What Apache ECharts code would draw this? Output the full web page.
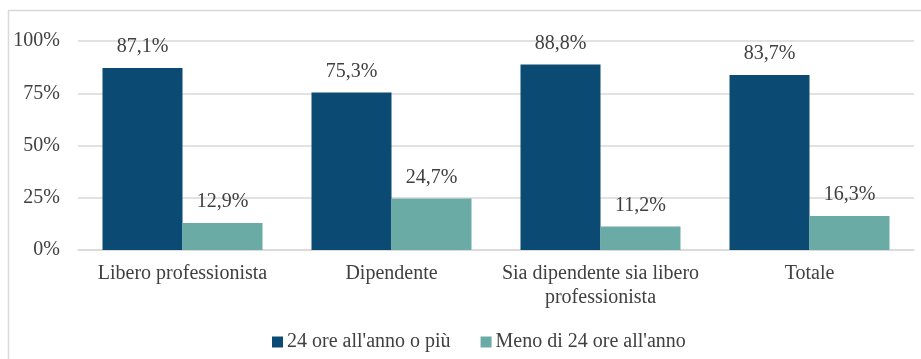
<!DOCTYPE html>
<html>
<head>
<meta charset="utf-8">
<script src="https://cdn.jsdelivr.net/npm/echarts@6/dist/echarts.min.js"></script>
<style>
  html, body { margin: 0; padding: 0; background: #fff; }
  #chart { width: 921px; height: 359px; }
</style>
</head>
<body>
<div id="chart"></div>
<script>
// Categories and series values (percent)
const categories = ['Libero professionista', 'Dipendente', 'Sia dipendente sia libero\nprofessionista', 'Totale'];
const seriesNames = ["24 ore all'anno o più", "Meno di 24 ore all'anno"];
const valuesMore = [87.1, 75.3, 88.8, 83.7];
const valuesLess = [12.9, 24.7, 11.2, 16.3];
const yTicks = [0, 25, 50, 75, 100];

const FONT = '"Liberation Serif", "DejaVu Serif", serif';
const SIZE = 20;
const TEXT = '#404040';
const GRID = '#d9d9d9';

const fmt = v => v.toFixed(1).replace('.', ',') + '%';

const chart = echarts.init(document.getElementById('chart'), null, { renderer: 'canvas' });
chart.setOption({
  backgroundColor: '#fff',
  animation: false,
  textStyle: { fontFamily: FONT },
  graphic: [{
    type: 'rect',
    shape: { x: 8.5, y: 10.5, width: 1000, height: 1000 },
    style: { fill: 'none', stroke: GRID, lineWidth: 1.5 },
    silent: true
  }],
  grid: { left: 78, right: 7, top: 41, bottom: 109, containLabel: false },
  legend: {
    bottom: 2,
    left: 267,
    itemWidth: 11,
    itemHeight: 11,
    itemGap: 30,
    icon: 'rect',
    textStyle: { fontFamily: FONT, fontSize: SIZE, color: TEXT, padding: [0, 0, 0, -1] },
    data: seriesNames
  },
  xAxis: {
    type: 'category',
    data: categories,
    axisLine: { lineStyle: { color: GRID, width: 1.5 } },
    axisTick: { show: false },
    axisLabel: { fontFamily: FONT, fontSize: SIZE, color: TEXT, margin: 12, lineHeight: 24, interval: 0 }
  },
  yAxis: {
    type: 'value',
    min: yTicks[0],
    max: yTicks[yTicks.length - 1],
    interval: 25,
    axisLine: { show: false },
    axisTick: { show: false },
    splitLine: { lineStyle: { color: GRID, width: 1.5 } },
    axisLabel: { fontFamily: FONT, fontSize: SIZE, color: TEXT, margin: 18, formatter: v => v + '%' }
  },
  series: [
    {
      name: seriesNames[0],
      type: 'bar',
      data: valuesMore,
      barWidth: 80,
      barGap: '0%',
      itemStyle: { color: '#0a4a73' },
      label: { show: true, position: 'top', distance: 11, formatter: p => fmt(p.value), fontFamily: FONT, fontSize: SIZE, color: TEXT }
    },
    {
      name: seriesNames[1],
      type: 'bar',
      data: valuesLess,
      barWidth: 80,
      barGap: '0%',
      itemStyle: { color: '#6aaba5' },
      label: { show: true, position: 'top', distance: 11, formatter: p => fmt(p.value), fontFamily: FONT, fontSize: SIZE, color: TEXT }
    }
  ]
});
</script>
</body>
</html>
